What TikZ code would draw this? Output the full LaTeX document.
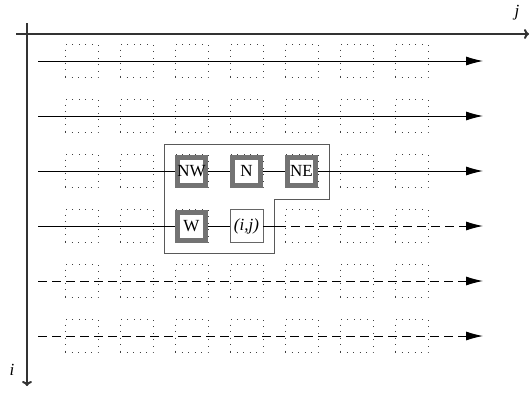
\documentclass[tikz,border=0pt]{standalone}
\usepackage{fontspec}
\setmainfont{Liberation Serif}
\usetikzlibrary{arrows.meta}

\begin{document}
\begin{tikzpicture}[x=1pt, y=-1pt, font=\fontsize{17}{19}\selectfont,
  cell/.style={draw=black!75, line width=0.9pt, dash pattern=on 0.9pt off 5.6pt, minimum size=33pt, inner sep=0pt},
  nb/.style={draw=black!55, line width=5pt, fill=white, minimum size=28pt, inner sep=0pt},
  cur/.style={draw=black!60, line width=0.8pt, fill=white, minimum size=33pt, inner sep=0pt},
  flow/.style={line width=0.9pt, -{Latex[length=17pt,width=9pt]}},
  wait/.style={flow, dash pattern=on 9pt off 5pt},
  axis/.style={draw=black!80, line width=2pt, -{To[length=5pt,width=10pt]}}]
\useasboundingbox (0,0) rectangle (530,394);
% axes
\coordinate (jfrom) at (16,34);
\coordinate (jto) at (529,34);
\coordinate (ifrom) at (27,23);
\coordinate (ito) at (27,386);
\draw[axis] (jfrom) -- (jto);
\draw[axis] (ifrom) -- (ito);
\node[font=\fontsize{17}{19}\selectfont\itshape] (jlab) at (517,13) {j};
\node[font=\fontsize{17}{19}\selectfont\itshape] (ilab) at (12,370) {i};
% row ends
\foreach \r in {1,...,6} {
  \coordinate (s\r) at (38,{61+55*(\r-1)});
  \coordinate (e\r) at (483,{61+55*(\r-1)});
}
\coordinate (m4) at (277,226);
% dependence region
\draw[black!65, line width=0.9pt] (164,144) -| (329,199) -| (274,253) -- (164,253) -- cycle;
% cells of the iteration space
\foreach \r in {1,...,6} {
  \foreach \c in {1,...,7} {
    \node[cell] (c\r\c) at ({81.5+55*(\c-1)},{61+55*(\r-1)}) {};
  }
}
\node[nb]  (nw) at (c33) {NW};
\node[nb]  (n)  at (c34) {N};
\node[nb]  (ne) at (c35) {NE};
\node[nb]  (w)  at (c43) {W};
\node[cur] (ij) at (c44) {\itshape (i,j)};
% sweeps
\draw[flow] (s1) -- (e1);
\draw[flow] (s2) -- (e2);
\draw[flow] (s3) -- (nw) -- (n) -- (ne) -- (e3);
\draw[line width=0.9pt] (s4) -- (w) -- (ij) -- (m4);
\draw[wait] (m4) -- (e4);
\draw[wait] (s5) -- (e5);
\draw[wait] (s6) -- (e6);
\end{tikzpicture}
\end{document}
